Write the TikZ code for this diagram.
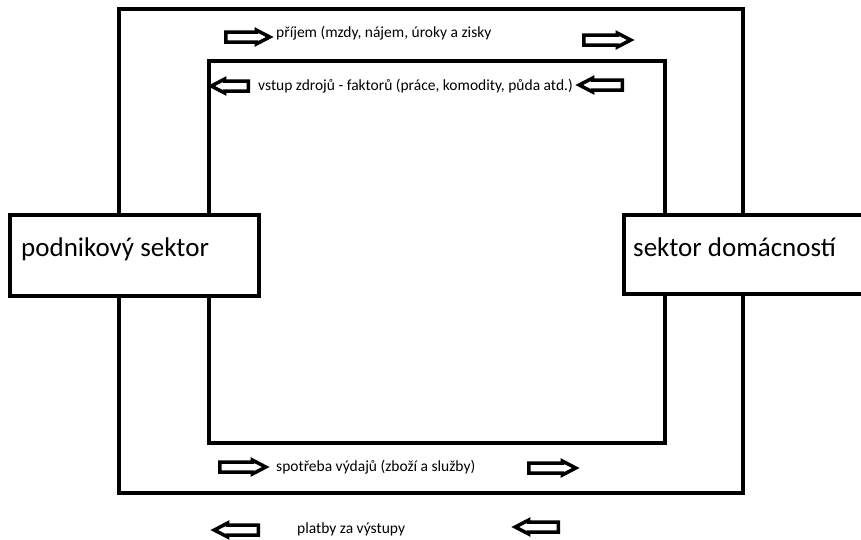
\documentclass[tikz,border=0pt]{standalone}
\usepackage{fontspec}
\setmainfont{Carlito}
\usetikzlibrary{shapes.arrows}
\begin{document}
\begin{tikzpicture}[x=1pt,y=-1pt,
  frame/.style={draw=black,line width=4pt},
  sectorbox/.style={draw=black,line width=4pt,fill=white,inner sep=0pt},
  bigtext/.style={font=\fontsize{27}{32}\selectfont,inner sep=0pt,anchor=west},
  small/.style={font=\fontsize{15.5}{18}\selectfont,inner sep=0pt,anchor=west},
  blockarrow/.style={shape=single arrow,draw=black,fill=white,line width=3.5pt,
    inner sep=3.25pt,single arrow head extend=2pt,single arrow tip angle=55,
    minimum height=#1,anchor=tail},
  leftarrow/.style={blockarrow=#1,shape border rotate=180}
]
\useasboundingbox (0,0) rectangle (861,539);
\clip (0,0) rectangle (861,539);
\fill[white] (0,0) rectangle (861,539);
\draw[frame] (119,9) rectangle (743,493);
\draw[frame] (209,61) rectangle (665,443);
% sector boxes
\node[sectorbox,minimum width=249pt,minimum height=81pt] (firm) at (134.5,255.5) {};
\node[bigtext] (firmtext) at (21,249) {podnikový sektor};
\node[sectorbox,minimum width=244pt,minimum height=79pt] (house) at (746,254) {};
\node[bigtext] (housetext) at (633,247) {sektor domácností};
% top row
\node[blockarrow=44pt] (a1) at (224,37) {};
\node[small] (t1) at (276,33) {příjem (mzdy, nájem, úroky a zisky};
\node[blockarrow=47pt] (a2) at (582,40) {};
% second row
\node[leftarrow=37pt] (a3) at (250,86) {};
\node[small] (t2) at (258,86) {vstup zdrojů - faktorů (práce, komodity, půda atd.)};
\node[leftarrow=43pt] (a4) at (624,85) {};
% bottom inner
\node[blockarrow=46pt] (a5) at (218,467) {};
\node[small] (t3) at (276,467) {spotřeba výdajů (zboží a služby)};
\node[blockarrow=47pt] (a6) at (527,468) {};
% bottom outer
\node[leftarrow=44pt] (a7) at (260,530) {};
\node[small] (t4) at (297,529) {platby za výstupy};
\node[leftarrow=43pt] (a8) at (560,527) {};
\end{tikzpicture}
\end{document}
